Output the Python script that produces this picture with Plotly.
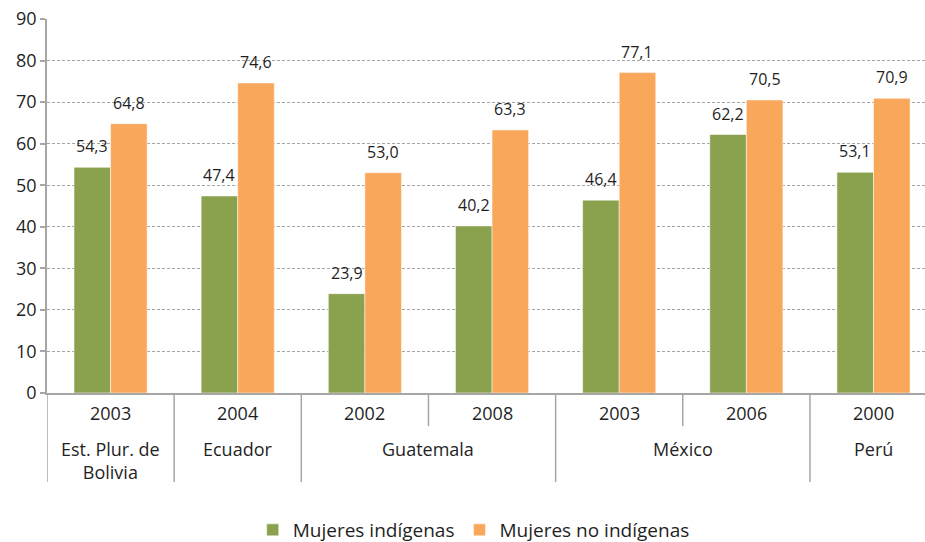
import plotly.graph_objects as go

countries = ["Est. Plur. de<br>Bolivia", "Ecuador", "Guatemala", "Guatemala",
             "México", "México", "Perú"]
years = ["2003", "2004", "2002", "2008", "2003", "2006", "2000"]
indigenas = [54.3, 47.4, 23.9, 40.2, 46.4, 62.2, 53.1]
no_indigenas = [64.8, 74.6, 53.0, 63.3, 77.1, 70.5, 70.9]
y_ticks = [0, 10, 20, 30, 40, 50, 60, 70, 80, 90]

GREEN = "#8aa14d"
ORANGE = "#f9a75a"
TEXT = "#1f1f1f"
AXIS = "#a6a6a6"
FONT = "Open Sans"
BARGAP = 0.425

x = list(range(len(years)))

fig = go.Figure()
fig.add_trace(go.Bar(x=x, y=indigenas, name="Mujeres indígenas", marker_color=GREEN))
fig.add_trace(go.Bar(x=x, y=no_indigenas, name="Mujeres no indígenas", marker_color=ORANGE))

M_L, M_T, M_B = 47, 19, 149
ax_h = 542 - M_T - M_B  # plot area height in px

annotations = []
shapes = []

# value labels above bars
half = (1 - BARGAP) / 4
for series, sign in ((indigenas, -1), (no_indigenas, 1)):
    for i, v in enumerate(series):
        annotations.append(dict(x=i + sign * half, y=v, xref="x", yref="y",
                                text=f"{v:.1f}".replace(".", ","), showarrow=False,
                                yanchor="bottom", yshift=8,
                                font=dict(size=16, color=TEXT, family=FONT)))

# year labels (inner level)
for i, yr in enumerate(years):
    annotations.append(dict(x=i, y=0, xref="x", yref="paper", text=yr,
                            showarrow=False, yanchor="middle", yshift=-20,
                            font=dict(size=18, color=TEXT, family=FONT)))

# country labels (outer level) + separators
groups = []
for i, c in enumerate(countries):
    if groups and groups[-1][0] == c:
        groups[-1][2] = i
    else:
        groups.append([c, i, i])
for c, a, b in groups:
    annotations.append(dict(x=(a + b) / 2, y=0, xref="x", yref="paper", text=c,
                            showarrow=False, yanchor="top", yshift=-42,
                            font=dict(size=18, color=TEXT, family=FONT)))
    shapes.append(dict(type="line", xref="x", yref="paper", x0=a - 0.5, x1=a - 0.5,
                       y0=0, y1=-89 / ax_h, line=dict(color=AXIS, width=1.5)))
    for k in range(a + 1, b + 1):
        shapes.append(dict(type="line", xref="x", yref="paper", x0=k - 0.5, x1=k - 0.5,
                           y0=0, y1=-33 / ax_h, line=dict(color=AXIS, width=1.5)))

fig.update_layout(
    width=925, height=542,
    template="plotly_white",
    paper_bgcolor="white", plot_bgcolor="white",
    font=dict(family=FONT, color=TEXT, size=16),
    barmode="group", bargap=BARGAP, bargroupgap=0,
    margin=dict(l=M_L, r=0, t=M_T, b=M_B, autoexpand=False),
    xaxis=dict(range=[-0.5, 6.405], showticklabels=False, ticks="",
               showgrid=False, zeroline=False, showline=True, automargin=False,
               linecolor=AXIS, linewidth=1.5),
    yaxis=dict(range=[0, 90], tickvals=y_ticks, showgrid=True, gridcolor=AXIS,
               griddash="3px,2px", gridwidth=1, zeroline=False, showline=True,
               automargin=False, linecolor=AXIS, linewidth=1.5, ticks="outside",
               ticklen=5, tickcolor=AXIS, tickwidth=1.5,
               tickfont=dict(size=18, color=TEXT)),
    legend=dict(orientation="h", x=0.486, xanchor="center", yref="container",
                y=12 / 542, yanchor="middle", font=dict(size=19, color=TEXT),
                itemwidth=30, traceorder="normal"),
    annotations=annotations,
    shapes=shapes,
)

# drop the default 8px body margin so the figure sits at the page's top-left
fig.write_html("out.html", config={"displayModeBar": False},
               post_script="document.body.style.margin = '0';")
